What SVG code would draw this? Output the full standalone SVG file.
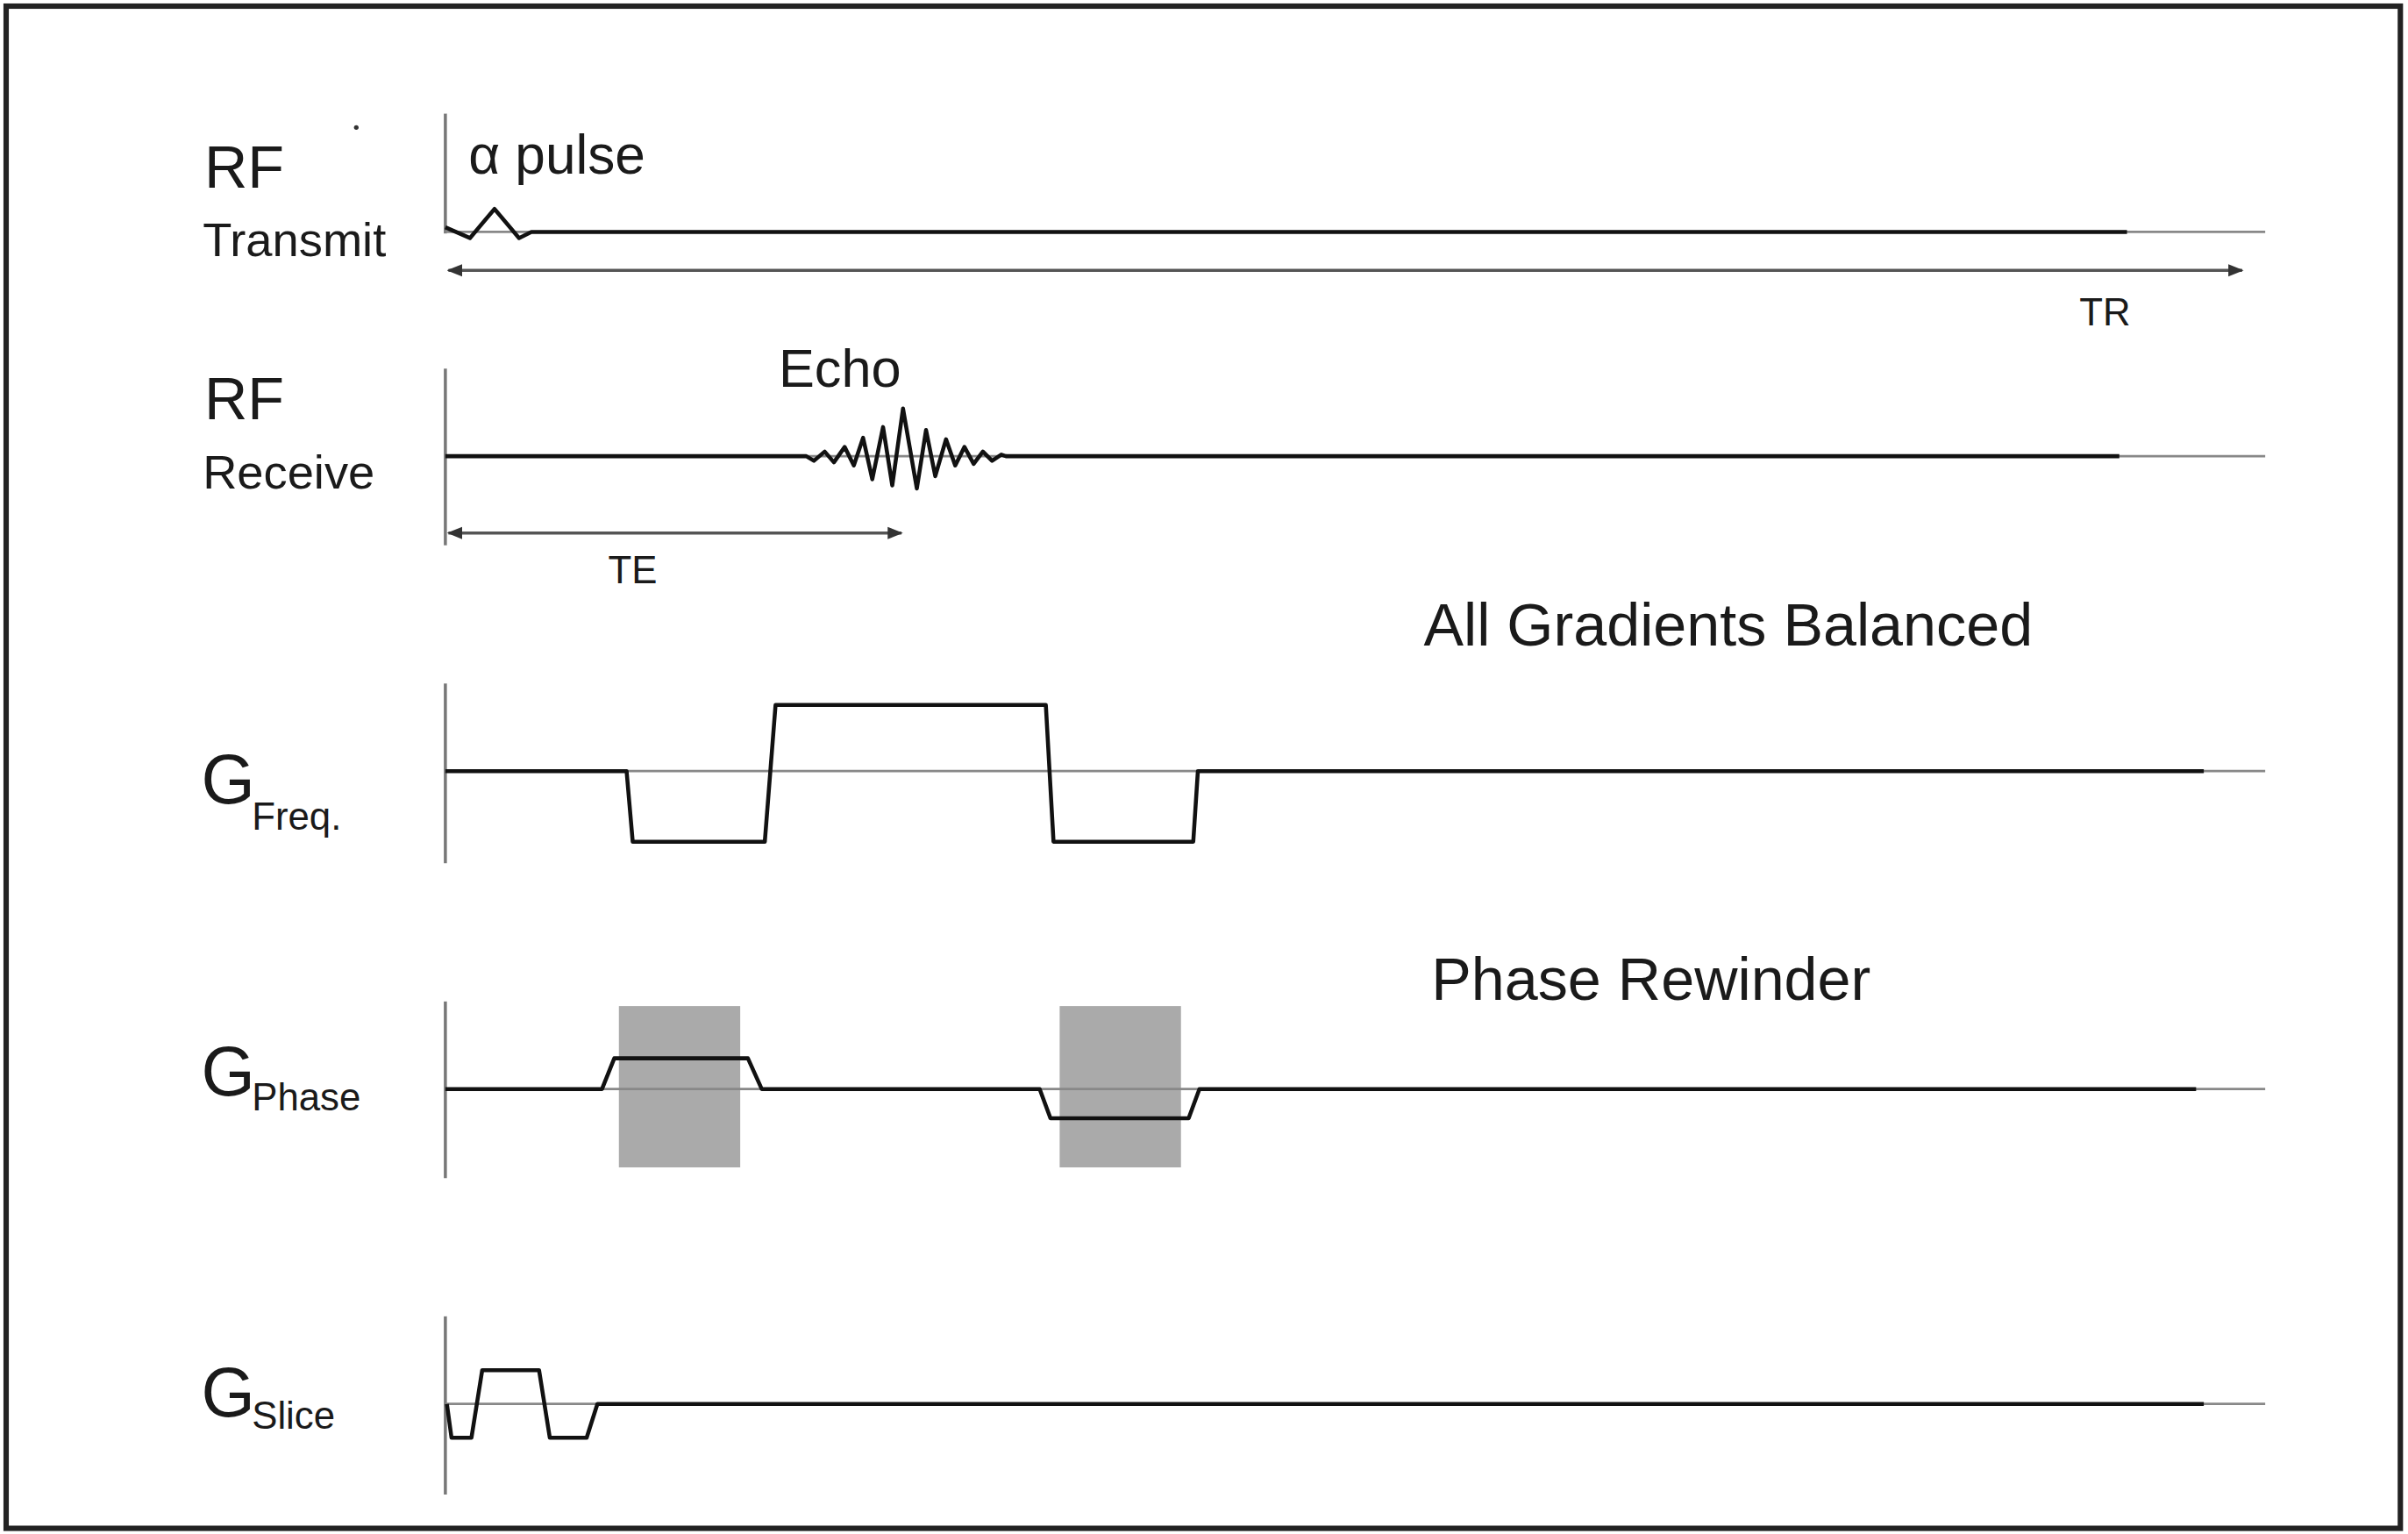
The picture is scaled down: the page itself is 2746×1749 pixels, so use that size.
<svg xmlns="http://www.w3.org/2000/svg" width="2746" height="1749" viewBox="0 0 2746 1749">
<style>
.t{font-family:"Liberation Sans",Arial,sans-serif;fill:#1a1a1a}
.ax{stroke:#777;stroke-width:2;fill:none}
.base{stroke:#888;stroke-width:1.6;fill:none}
.sig{stroke:#111;stroke-width:2.6;fill:none;stroke-linejoin:round}
.dim{stroke:#555;stroke-width:2;fill:none}
.box{fill:#aaa}
</style>
<defs>
<marker id="ah" viewBox="0 0 10 10" refX="9" refY="5" markerWidth="5" markerHeight="5" orient="auto-start-reverse"><path d="M0,1 L10,5 L0,9 z" fill="#333"/></marker>
</defs>
<rect x="0" y="0" width="2746" height="1749" fill="#fff"/>
<g transform="scale(1.7513)">
<rect x="4" y="4" width="1559" height="991" fill="none" stroke="#222" stroke-width="3.5"/>
<circle cx="232" cy="83" r="1.5" fill="#333"/>
<g id="rf-transmit">
<text class="t" x="133" y="122" font-size="39">RF</text>
<text class="t" x="132" y="167" font-size="31">Transmit</text>
<line class="ax" x1="290" y1="74" x2="290" y2="152"/>
<line class="base" x1="290" y1="151" x2="1475" y2="151"/>
<polyline class="sig" points="290,148 306,155 322,136 338,155 346,151 1385,151"/>
<text class="t" x="305" y="113" font-size="35.5">α pulse</text>
</g>
<g id="rf-receive">
<text class="t" x="133" y="273" font-size="39">RF</text>
<text class="t" x="132" y="318" font-size="31">Receive</text>
<line class="ax" x1="290" y1="240" x2="290" y2="355"/>
<line class="base" x1="290" y1="297" x2="1475" y2="297"/>
<polyline class="sig" stroke-width="2.2" points="290,297 525,297 530,300 537,294 543,301 550,291 556,303 562,285 568,312 575,278 581,316 588,266 597,318 603,280 609,310 616,286 622,303 628,291 634,302 640,294 646,300 652,296 655,297 1380,297"/>
<text class="t" x="507" y="252" font-size="35">Echo</text>
</g>
<g id="g-freq">
<text class="t" x="131" y="523" font-size="45">G</text>
<text class="t" x="164" y="540" font-size="25">Freq.</text>
<line class="ax" x1="290" y1="445" x2="290" y2="562"/>
<line class="base" x1="290" y1="502" x2="1475" y2="502"/>
<polyline class="sig" points="290,502 408,502 412,548 498,548 505,459 681,459 686,548 777,548 780,502 1435,502"/>
<text class="t" x="927" y="420" font-size="39">All Gradients Balanced</text>
</g>
<g id="g-phase">
<text class="t" x="131" y="713" font-size="45">G</text>
<text class="t" x="164" y="723" font-size="25">Phase</text>
<rect class="box" x="403" y="655" width="79" height="105"/>
<rect class="box" x="690" y="655" width="79" height="105"/>
<line class="ax" x1="290" y1="652" x2="290" y2="767"/>
<line class="base" x1="290" y1="709" x2="1475" y2="709"/>
<polyline class="sig" points="290,709 392,709 400,689 487,689 496,709 677,709 684,728 774,728 781,709 1430,709"/>
<text class="t" x="932" y="651" font-size="39">Phase Rewinder</text>
</g>
<g id="g-slice">
<text class="t" x="131" y="922" font-size="45">G</text>
<text class="t" x="164" y="930" font-size="25">Slice</text>
<line class="ax" x1="290" y1="857" x2="290" y2="973"/>
<line class="base" x1="290" y1="914" x2="1475" y2="914"/>
<polyline class="sig" points="291,914 294,936 307,936 314,892 351,892 358,936 382,936 389,914 1435,914"/>
</g>
<g id="connectors">
<line class="dim" x1="292" y1="176" x2="1460" y2="176" marker-start="url(#ah)" marker-end="url(#ah)"/>
<text class="t" x="1354" y="212" font-size="25">TR</text>
<line class="dim" x1="292" y1="347" x2="587" y2="347" marker-start="url(#ah)" marker-end="url(#ah)"/>
<text class="t" x="396" y="380" font-size="25">TE</text>
</g>
</g>
</svg>
